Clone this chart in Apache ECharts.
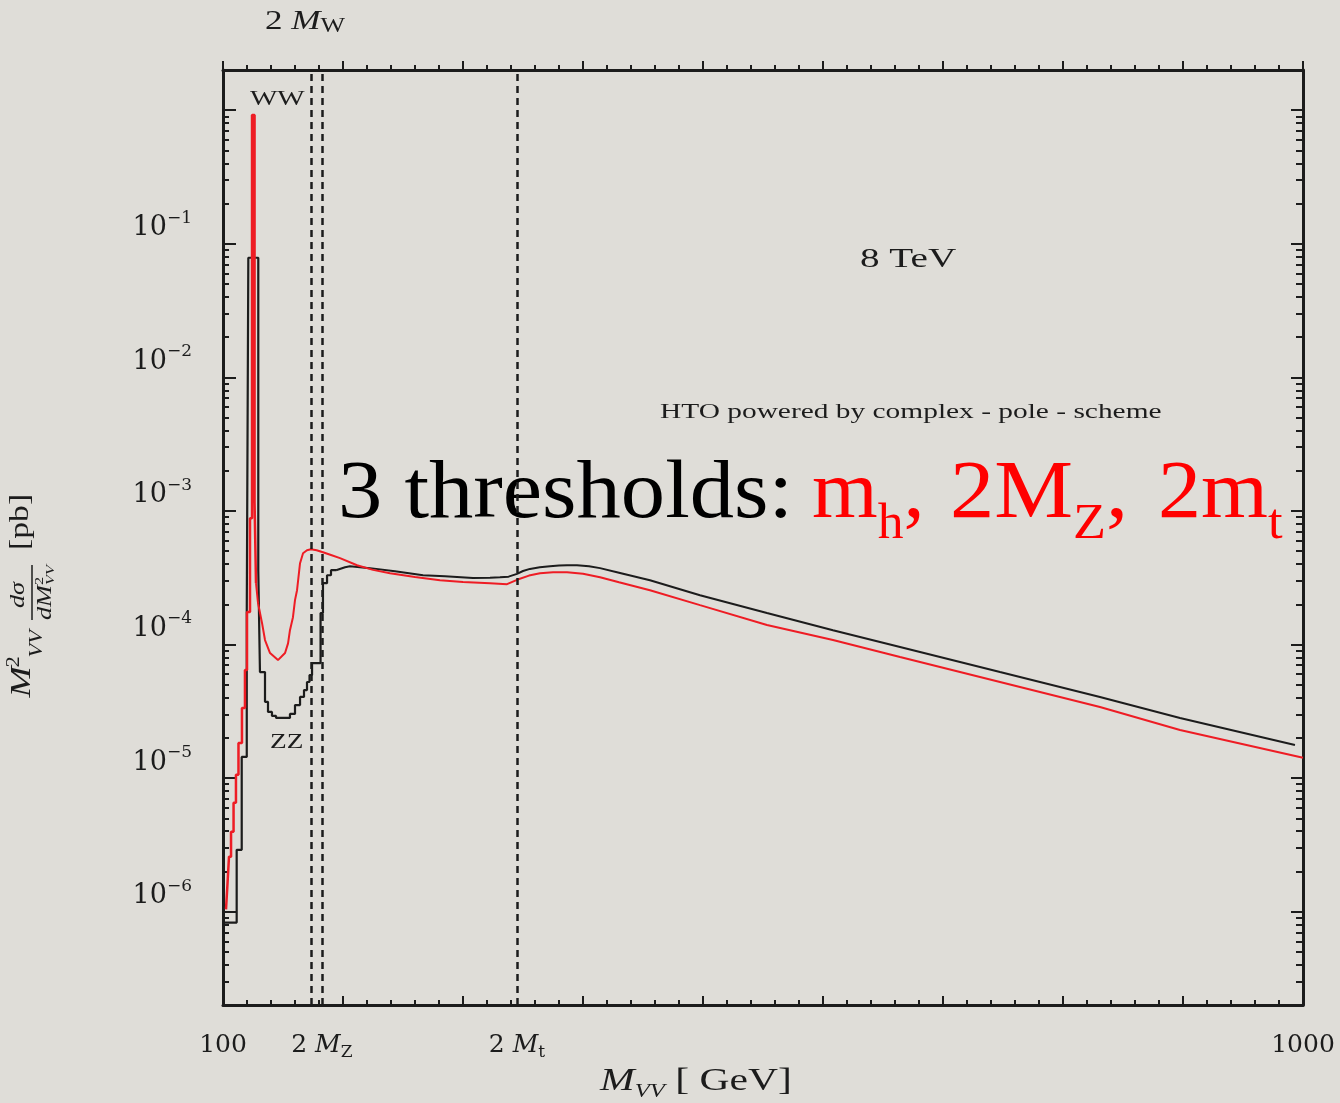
<!DOCTYPE html>
<html>
<head>
<meta charset="utf-8">
<script src="https://cdn.jsdelivr.net/npm/echarts@6/dist/echarts.min.js"></script>
<style>
    html, body { margin: 0; padding: 0; background: #dfddd8; }
    #chart { width: 1340px; height: 1103px; }
</style>
</head>
<body>
<div id="chart"></div>
<script>
    // black histogram: bin left edges [GeV] and heights [pb], last point closes the last bin
    var blackStepX = [101, 111.4, 115.6, 119.8, 121.1, 129.4, 130.8, 135, 137.5, 140.8, 144.2, 155.8, 160, 164.2, 167.5, 170, 172.1, 174.2, 181.3, 183.3, 186.7, 190, 194.2];
    var blackStepY = [8.28e-7, 2.90e-6, 1.44e-5, 1.75e-4, 7.86e-2, 3.60e-4, 6.22e-5, 3.72e-5, 3.13e-5, 2.92e-5, 2.82e-5, 3.02e-5, 3.52e-5, 4.05e-5, 4.56e-5, 5.24e-5, 5.91e-5, 7.26e-5, 1.72e-4, 2.88e-4, 3.30e-4, 3.60e-4, 3.60e-4];
    // black continuum above 2 M_Z
    var blackLineX = [194.2, 201.7, 205.8, 222.5, 243.3, 266.7, 285, 308.3, 322.5, 330.8, 338, 345, 350, 355.8, 364, 372.5, 380, 386.7, 395, 405, 414.2, 430, 455.8, 497.5, 553.3, 608.3, 664.2, 747.5, 830.8, 897.5, 993.3];
    var blackLineY = [3.60e-4, 3.79e-4, 3.85e-4, 3.73e-4, 3.54e-4, 3.30e-4, 3.24e-4, 3.14e-4, 3.16e-4, 3.19e-4, 3.22e-4, 3.38e-4, 3.55e-4, 3.68e-4, 3.78e-4, 3.85e-4, 3.90e-4, 3.92e-4, 3.92e-4, 3.85e-4, 3.73e-4, 3.45e-4, 3.03e-4, 2.34e-4, 1.72e-4, 1.28e-4, 9.57e-5, 6.22e-5, 4.05e-5, 2.82e-5, 1.77e-5];

    // red histogram around m_h
    var redStepX = [102.5, 103.8, 105, 106.7, 108.8, 110.8, 112.9, 115.8, 118.3, 120, 122.5, 124.2, 126.3, 127.5];
    var redStepY = [1.04e-6, 1.65e-6, 2.58e-6, 3.96e-6, 6.53e-6, 1.06e-5, 1.83e-5, 3.35e-5, 6.44e-5, 1.75e-4, 8.81e-4, 0.92, 1.16e-3, 2.88e-4];
    // red continuum
    var redLineX = [127.5, 129.2, 132.5, 135, 139.2, 145.8, 151.7, 154.2, 155.8, 158.3, 160, 161.7, 164.2, 166.7, 170, 173.3, 178, 183.3, 190, 197.5, 211.7, 225, 239.2, 260, 280.8, 300, 322.5, 336.7, 345, 355, 364.2, 375, 386.7, 400, 414.2, 430, 455.8, 497.5, 553.3, 608.3, 664.2, 747.5, 830.8, 897.5, 1000];
    var redLineY = [2.88e-4, 2.04e-4, 1.45e-4, 1.08e-4, 8.63e-5, 7.64e-5, 8.63e-5, 1.02e-4, 1.28e-4, 1.60e-4, 2.15e-4, 2.55e-4, 4.06e-4, 4.82e-4, 5.08e-4, 5.16e-4, 5.08e-4, 4.91e-4, 4.68e-4, 4.43e-4, 3.92e-4, 3.62e-4, 3.42e-4, 3.20e-4, 3.03e-4, 2.94e-4, 2.88e-4, 2.83e-4, 3.05e-4, 3.28e-4, 3.42e-4, 3.47e-4, 3.48e-4, 3.38e-4, 3.19e-4, 2.92e-4, 2.55e-4, 1.97e-4, 1.40e-4, 1.08e-4, 8.06e-5, 5.24e-5, 3.40e-5, 2.29e-5, 1.42e-5];

    // dashed threshold lines (2 M_W, 2 M_Z, 2 M_t)
    var thresholdX = [173.3, 182.4, 345];

    var xLabelValues = [100, 182.4, 345, 1000];
    var xLabelText = ['{n|100}', '{n|2 }{i|M}{s|Z}', '{n|2 }{i|M}{s|t}', '{n|1000}'];
    var yMajorValues = [1, 1e-1, 1e-2, 1e-3, 1e-4, 1e-5, 1e-6];
    var yLabelValues = [1e-1, 1e-2, 1e-3, 1e-4, 1e-5, 1e-6];
    var yLabelExp = ['\u22121', '\u22122', '\u22123', '\u22124', '\u22125', '\u22126'];

    var yMin = 2e-7, yMax = 2;
    var yMinorValues = [];
    for (var e = -7; e <= 0; e++) {
        for (var m = 2; m <= 9; m++) {
            var v = +(m * Math.pow(10, e)).toPrecision(3);
            if (v >= yMin && v <= yMax) yMinorValues.push(v);
        }
    }

    function pairs(xs, ys) {
        var out = [];
        for (var i = 0; i < xs.length; i++) out.push([xs[i], ys[i]]);
        return out;
    }

    var ink = '#1c1c1c';
    var red = '#ee1c24';
    var serif = '"DejaVu Serif", serif';
    var tserif = '"Liberation Serif", "DejaVu Serif", serif';

    function yAxisDef(pos, ticks, len, major) {
        return {
            type: 'log', min: yMin, max: yMax, position: pos,
            axisLine: { show: major, lineStyle: { color: ink, width: 3 } },
            axisTick: { show: true, inside: true, length: len, customValues: ticks, lineStyle: { color: ink, width: 2 } },
            axisLabel: { show: false },
            splitLine: { show: false },
            minorTick: { show: false }
        };
    }

    var yLeft = yAxisDef('left', yMajorValues, 13, true);
    yLeft.axisLabel = {
        show: true,
        customValues: yLabelValues,
        margin: 31,
        verticalAlign: 'bottom',
        padding: [0, 0, 2, 0],
        formatter: function (v) {
            var i = Math.round(-Math.log10(v)) - 1;
            return '{b|10}{s|' + yLabelExp[i] + '}';
        },
        rich: {
            b: { fontFamily: serif, fontSize: 27, lineHeight: 32, color: ink, verticalAlign: 'bottom' },
            s: { fontFamily: serif, fontSize: 17, lineHeight: 17, color: ink, verticalAlign: 'top' }
        }
    };

    var xRich = {
        n: { fontFamily: serif, fontSize: 25, lineHeight: 25, color: ink, verticalAlign: 'top' },
        i: { fontFamily: serif, fontStyle: 'italic', fontSize: 25, lineHeight: 25, color: ink, verticalAlign: 'top' },
        s: { fontFamily: serif, fontSize: 17, lineHeight: 28, color: ink, verticalAlign: 'bottom' }
    };

    // rich styles for the graphic texts (zrender uses fill)
    function subStyle(size, subSize, lh, color, italicSub) {
        return {
            n: { fontFamily: tserif, fontSize: size, lineHeight: size, verticalAlign: 'top', fill: color },
            i: { fontFamily: tserif, fontStyle: 'italic', fontSize: size, lineHeight: size, verticalAlign: 'top', fill: color },
            s: { fontFamily: tserif, fontStyle: italicSub ? 'italic' : 'normal', fontSize: subSize, lineHeight: lh, verticalAlign: 'bottom', fill: color }
        };
    }

    var chart = echarts.init(document.getElementById('chart'));
    var option = {
        backgroundColor: '#dfddd8',
        animation: false,
        grid: { left: 223, right: 37, top: 70, bottom: 98, containLabel: false, outerBoundsMode: 'none' },
        xAxis: [{
            type: 'value', min: 100, max: 1000, interval: 100, position: 'bottom',
            axisLine: { show: true, lineStyle: { color: ink, width: 3 } },
            axisTick: { show: true, inside: true, length: 9, lineStyle: { color: ink, width: 2 } },
            minorTick: { show: true, splitNumber: 5, length: 5, lineStyle: { color: ink, width: 2 } },
            axisLabel: {
                show: true,
                customValues: xLabelValues,
                margin: 28,
                formatter: function (v) {
                    var i = xLabelValues.indexOf(v);
                    return i < 0 ? '' : xLabelText[i];
                },
                rich: xRich
            },
            splitLine: { show: false }
        }, {
            type: 'value', min: 100, max: 1000, interval: 100, position: 'top',
            axisLine: { show: true, lineStyle: { color: ink, width: 3 } },
            axisTick: { show: true, inside: false, length: 9, lineStyle: { color: ink, width: 2 } },
            minorTick: { show: true, splitNumber: 5, length: 5, lineStyle: { color: ink, width: 2 } },
            axisLabel: { show: false },
            splitLine: { show: false }
        }],
        yAxis: [
            yLeft,
            yAxisDef('left', yMinorValues, 6, false),
            yAxisDef('right', yMajorValues, 12, true),
            yAxisDef('right', yMinorValues, 7, false)
        ],
        series: [{
            name: 'black hist',
            type: 'line', step: 'end', symbol: 'none', silent: true,
            xAxisIndex: 0, yAxisIndex: 0,
            lineStyle: { color: ink, width: 2.2 },
            data: pairs(blackStepX, blackStepY),
            markLine: {
                silent: true,
                symbol: ['none', 'none'],
                label: { show: false },
                lineStyle: { color: ink, width: 2.5, type: [7, 5] },
                data: thresholdX.map(function (x) { return { xAxis: x }; })
            }
        }, {
            name: 'black',
            type: 'line', symbol: 'none', silent: true,
            xAxisIndex: 0, yAxisIndex: 0,
            lineStyle: { color: ink, width: 2 },
            data: pairs(blackLineX, blackLineY)
        }, {
            name: 'red hist',
            type: 'line', step: 'end', symbol: 'none', silent: true,
            xAxisIndex: 0, yAxisIndex: 0,
            lineStyle: { color: red, width: 2.5 },
            data: pairs(redStepX, redStepY)
        }, {
            name: 'red',
            type: 'line', symbol: 'none', silent: true,
            xAxisIndex: 0, yAxisIndex: 0,
            lineStyle: { color: red, width: 2 },
            data: pairs(redLineX, redLineY)
        }],
        graphic: [
            {
                type: 'text', x: 265, y: 8, scaleX: 1.3,
                style: { text: '{n|2 }{i|M}{s|W}', verticalAlign: 'top', rich: subStyle(27, 20, 29, ink, false) }
            },
            {
                type: 'text', x: 250, y: 100, scaleX: 1.45,
                style: { text: 'WW', fontFamily: tserif, fontSize: 20, fill: ink, verticalAlign: 'middle' }
            },
            {
                type: 'text', x: 270, y: 742, scaleX: 1.3,
                style: { text: 'ZZ', fontFamily: tserif, fontSize: 21, fill: ink, verticalAlign: 'middle' }
            },
            {
                type: 'text', x: 860, y: 260, scaleX: 1.45,
                style: { text: '8 TeV', fontFamily: tserif, fontSize: 27, fill: ink, verticalAlign: 'middle' }
            },
            {
                type: 'text', x: 660, y: 413, scaleX: 1.47,
                style: { text: 'HTO powered by complex - pole - scheme', fontFamily: tserif, fontSize: 20, fill: ink, verticalAlign: 'middle' }
            },
            {
                type: 'text', x: 338, y: 454, scaleX: 1.08,
                style: { text: '{n|3 thresholds:}', verticalAlign: 'top', rich: subStyle(82, 50, 96, '#000', false) }
            },
            {
                type: 'text', x: 812, y: 454, scaleX: 1.03,
                style: { text: '{n|m}{s|h}{n|,}', verticalAlign: 'top', rich: subStyle(82, 50, 96, '#ff0000', false) }
            },
            {
                type: 'text', x: 950, y: 454, scaleX: 1.08,
                style: { text: '{n|2M}{s|Z}{n|,}', verticalAlign: 'top', rich: subStyle(82, 50, 96, '#ff0000', false) }
            },
            {
                type: 'text', x: 1158, y: 454, scaleX: 1.05,
                style: { text: '{n|2m}{s|t}', verticalAlign: 'top', rich: subStyle(82, 50, 96, '#ff0000', false) }
            },
            {
                // x axis title
                type: 'text', x: 600, y: 1066, scaleX: 1.3,
                style: { text: '{i|M}{s|VV}{n| [ GeV]}', verticalAlign: 'top', rich: subStyle(32, 19, 35, ink, true) }
            },
            {
                // y axis title, rotated
                type: 'group', x: 28, y: 700, rotation: Math.PI / 2, scaleX: 1.25,
                children: [
                    { type: 'text', x: 2, y: -6, style: { text: 'M', fontFamily: tserif, fontStyle: 'italic', fontSize: 30, fill: ink, verticalAlign: 'middle' } },
                    { type: 'text', x: 26, y: -14, style: { text: '2', fontFamily: tserif, fontSize: 18, fill: ink, verticalAlign: 'middle' } },
                    { type: 'text', x: 34, y: 9, style: { text: 'VV', fontFamily: tserif, fontStyle: 'italic', fontSize: 18, fill: ink, verticalAlign: 'middle' } },
                    { type: 'text', x: 84, y: -10, style: { text: 'd\u03c3', fontFamily: tserif, fontStyle: 'italic', fontSize: 21, fill: ink, align: 'center', textAlign: 'center', verticalAlign: 'middle' } },
                    { type: 'line', shape: { x1: 64, y1: 4, x2: 108, y2: 4 }, style: { stroke: ink, lineWidth: 1.5 } },
                    { type: 'text', x: 64, y: 17, style: { text: 'dM', fontFamily: tserif, fontStyle: 'italic', fontSize: 21, fill: ink, verticalAlign: 'middle' } },
                    { type: 'text', x: 92, y: 12, style: { text: '2', fontFamily: tserif, fontSize: 13, fill: ink, verticalAlign: 'middle' } },
                    { type: 'text', x: 92, y: 23, style: { text: 'VV', fontFamily: tserif, fontStyle: 'italic', fontSize: 13, fill: ink, verticalAlign: 'middle' } },
                    { type: 'text', x: 120, y: -7, style: { text: '[pb]', fontFamily: tserif, fontSize: 27, fill: ink, verticalAlign: 'middle' } }
                ]
            }
        ]
    };
    chart.setOption(option);
</script>
</body>
</html>
